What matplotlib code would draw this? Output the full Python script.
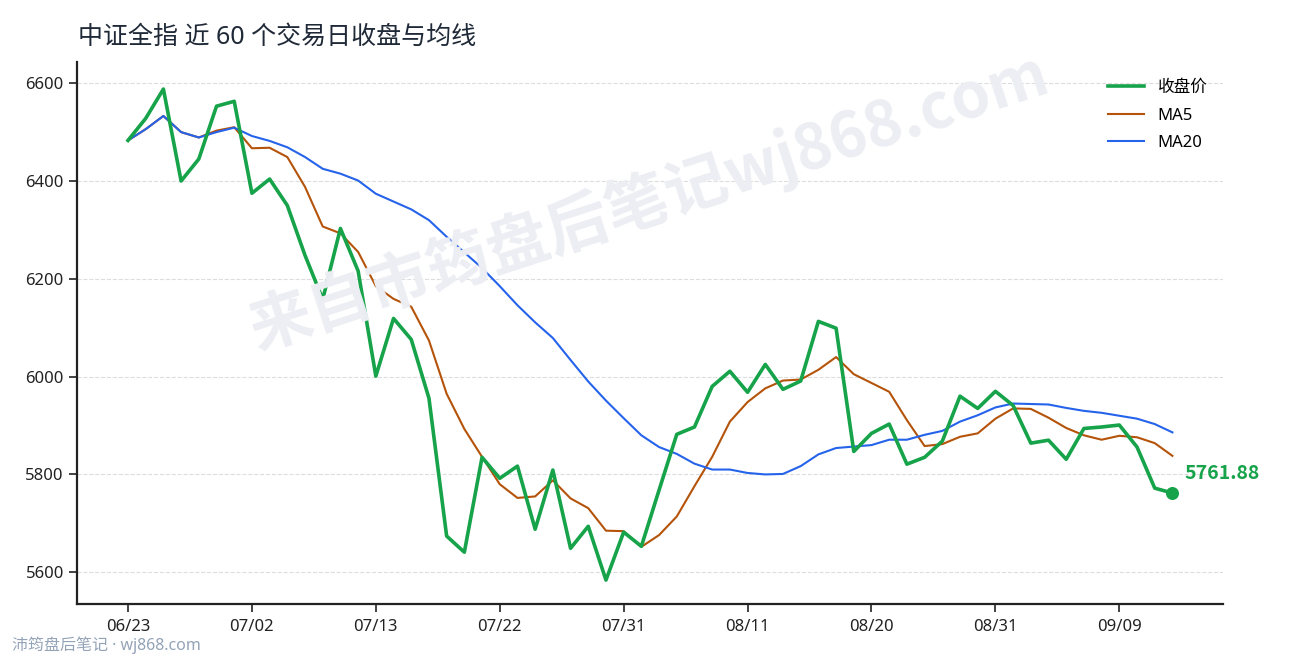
import matplotlib
matplotlib.use("Agg")
import matplotlib.pyplot as plt

plt.rcParams['font.family'] = ['Noto Sans', 'Noto Sans CJK SC', 'DejaVu Sans']
BOLD_FAMILY = ['Noto Sans CJK SC', 'DejaVu Sans']

dates = ['06/23', '07/02', '07/13', '07/22', '07/31', '08/11', '08/20', '08/31', '09/09']
tick_idx = [0, 7, 14, 21, 28, 35, 42, 49, 56]

close = [6483, 6528, 6588, 6400, 6445, 6553, 6563, 6375, 6404, 6350,
         6248, 6158, 6303, 6216, 6001, 6119, 6076, 5956, 5674, 5641,
         5835, 5792, 5817, 5688, 5809, 5649, 5694, 5584, 5682, 5653,
         5768, 5882, 5897, 5980, 6011, 5968, 6025, 5974, 5991, 6113,
         6099, 5847, 5884, 5903, 5821, 5835, 5868, 5960, 5935, 5970,
         5941, 5864, 5870, 5831, 5894, 5897, 5901, 5856, 5772, 5761.88]

ma5 = [6483, 6506, 6533, 6500, 6489, 6503, 6510, 6467, 6468, 6449,
       6388, 6307, 6293, 6255, 6185, 6159, 6143, 6074, 5965, 5893,
       5836, 5780, 5752, 5755, 5788, 5751, 5731, 5685, 5684, 5652,
       5676, 5714, 5776, 5836, 5908, 5948, 5976, 5992, 5994, 6014,
       6040, 6005, 5987, 5969, 5911, 5858, 5862, 5877, 5884, 5914,
       5935, 5934, 5916, 5895, 5880, 5871, 5879, 5876, 5864, 5838]

ma20 = [6483, 6506, 6533, 6500, 6489, 6500, 6509, 6492, 6482, 6469,
        6449, 6425, 6415, 6401, 6374, 6358, 6342, 6320, 6286, 6254,
        6222, 6185, 6146, 6111, 6079, 6034, 5990, 5951, 5915, 5880,
        5856, 5842, 5822, 5810, 5810, 5803, 5800, 5801, 5817, 5841,
        5854, 5857, 5860, 5871, 5871, 5881, 5889, 5908, 5921, 5937,
        5945, 5944, 5943, 5936, 5930, 5926, 5920, 5914, 5903, 5886]

x = list(range(len(close)))

fig = plt.figure(figsize=(12.9, 6.6), dpi=100)
ax = fig.add_axes([0.0597, 0.0848, 0.888, 0.821])

ax.plot(x, close, color='#16a34a', lw=2.6, label='收盘价', zorder=4)
ax.plot(x, ma5, color='#b45309', lw=1.5, label='MA5', zorder=3)
ax.plot(x, ma20, color='#2563eb', lw=1.5, label='MA20', zorder=3)

# last point marker + label
ax.scatter([x[-1]], [close[-1]], s=70, color='#16a34a', zorder=5)
ax.annotate(f'{close[-1]:.2f}', (x[-1], close[-1]), xytext=(9, 7),
            textcoords='offset points', color='#16a34a', fontsize=14,
            fontweight='bold', family=BOLD_FAMILY, va='bottom', ha='left')

ax.set_xlim(-2.88, 61.83)
ax.set_ylim(5535, 6643)
ax.set_yticks([5600, 5800, 6000, 6200, 6400, 6600])
ax.set_xticks(tick_idx)
ax.set_xticklabels(dates)
ax.tick_params(labelsize=12, length=6, width=1.2, colors='#222222')
ax.tick_params(axis='x', pad=5)
ax.grid(axis='y', ls='--', color='#dddddd', lw=0.8)
ax.set_axisbelow(True)
for s in ['top', 'right']:
    ax.spines[s].set_visible(False)
for s in ['left', 'bottom']:
    ax.spines[s].set_linewidth(1.6)
    ax.spines[s].set_color('#222222')

ax.legend(loc='upper right', frameon=False, fontsize=12, handlelength=2.2,
          labelspacing=0.7, bbox_to_anchor=(1.0, 0.995))

fig.text(0.0605, 0.943, '中证全指 近 60 个交易日收盘与均线', fontsize=18,
         color='#1f2937', va='center', ha='left')

# watermark
fig.text(0.503, 0.695, '来自市筠盘后笔记wj868.com', fontsize=45, fontweight='bold',
         family=BOLD_FAMILY, color='#eceef3', rotation=18, ha='center',
         va='center', zorder=0)

fig.text(0.009, 0.009, '沛筠盘后笔记 · wj868.com', fontsize=11.5,
         color='#94a3b8', ha='left', va='bottom')

fig.savefig('out.png', dpi=100)
